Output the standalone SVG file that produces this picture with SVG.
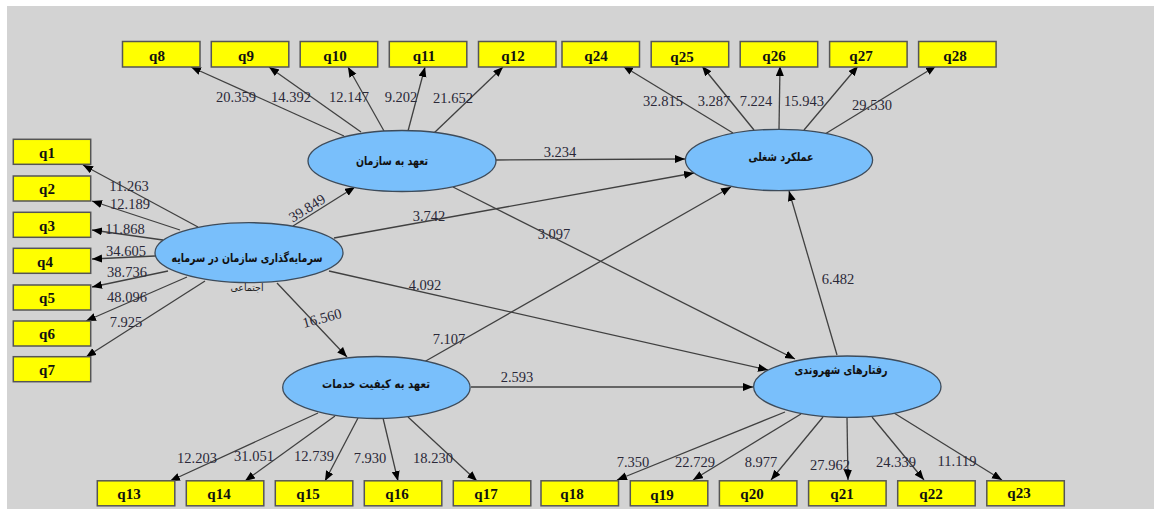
<svg xmlns="http://www.w3.org/2000/svg" width="1154" height="511" viewBox="0 0 1154 511">
<style>
.bg{fill:#d3d3d3}
.box{fill:#ffff00;stroke:#555;stroke-width:1.5}
.bt{font-family:"Liberation Serif",serif;font-weight:bold;font-size:15px;fill:#111;text-anchor:middle}
.ell{fill:#79bffb;stroke:#3d4b5a;stroke-width:1.3}
.at{font-family:"DejaVu Sans",sans-serif;font-weight:bold;font-size:12px;fill:#111;text-anchor:middle}
.st{font-family:"DejaVu Sans",sans-serif;font-size:10px;fill:#222;text-anchor:middle}
.ln{stroke:#404040;stroke-width:1.3;fill:none;marker-end:url(#ah)}
.lb{font-family:"Liberation Serif",serif;font-size:14.5px;fill:#2a2838;text-anchor:middle}
</style>
<defs>
<marker id="ah" markerUnits="userSpaceOnUse" markerWidth="11" markerHeight="9" refX="10" refY="4" orient="auto">
<path d="M0,0 L10,4 L0,8 z" fill="#000"/>
</marker>
</defs>
<rect width="1154" height="511" fill="#fff"/>
<rect class="bg" x="7" y="6" width="1147" height="503"/>
<g id="connectors">
<line class="ln" x1="344" y1="136" x2="191" y2="67"/>
<line class="ln" x1="361" y1="132" x2="269" y2="67"/>
<line class="ln" x1="384" y1="131" x2="348" y2="67"/>
<line class="ln" x1="408" y1="131" x2="425" y2="67"/>
<line class="ln" x1="434" y1="133" x2="503" y2="67"/>
<line class="ln" x1="733" y1="133" x2="623" y2="66"/>
<line class="ln" x1="754" y1="130" x2="702" y2="66"/>
<line class="ln" x1="779" y1="129" x2="780" y2="66"/>
<line class="ln" x1="804" y1="130" x2="858" y2="66"/>
<line class="ln" x1="825" y1="134" x2="936" y2="66"/>
<line class="ln" x1="198" y1="227" x2="83" y2="165"/>
<line class="ln" x1="180" y1="230" x2="92" y2="201"/>
<line class="ln" x1="163" y1="240" x2="92" y2="230"/>
<line class="ln" x1="155" y1="256" x2="92" y2="259"/>
<line class="ln" x1="168" y1="271" x2="92" y2="287"/>
<line class="ln" x1="187" y1="277" x2="86" y2="321"/>
<line class="ln" x1="205" y1="281" x2="86" y2="357"/>
<line class="ln" x1="318" y1="413" x2="170" y2="481"/>
<line class="ln" x1="335" y1="416" x2="245" y2="481"/>
<line class="ln" x1="358" y1="418" x2="325" y2="481"/>
<line class="ln" x1="383" y1="418" x2="398" y2="481"/>
<line class="ln" x1="408" y1="417" x2="477" y2="481"/>
<line class="ln" x1="785" y1="412" x2="617" y2="480"/>
<line class="ln" x1="801" y1="414" x2="693" y2="480"/>
<line class="ln" x1="823" y1="417" x2="771" y2="480"/>
<line class="ln" x1="847" y1="417" x2="848" y2="480"/>
<line class="ln" x1="872" y1="417" x2="924" y2="480"/>
<line class="ln" x1="894" y1="413" x2="1002" y2="480"/>
<line class="ln" x1="293" y1="226" x2="355" y2="187"/>
<line class="ln" x1="277" y1="283" x2="347" y2="357"/>
<line class="ln" x1="496" y1="160" x2="685" y2="159"/>
<line class="ln" x1="334" y1="238" x2="694" y2="173"/>
<line class="ln" x1="453" y1="187" x2="795" y2="359"/>
<line class="ln" x1="329" y1="271" x2="768" y2="370"/>
<line class="ln" x1="424" y1="362" x2="731" y2="187"/>
<line class="ln" x1="471" y1="387" x2="753" y2="387"/>
<line class="ln" x1="837" y1="355" x2="789" y2="191"/>
</g>
<g id="labels">
<text class="lb" x="236" y="102">20.359</text>
<text class="lb" x="291" y="102">14.392</text>
<text class="lb" x="349" y="102">12.147</text>
<text class="lb" x="401" y="102">9.202</text>
<text class="lb" x="453" y="103">21.652</text>
<text class="lb" x="663" y="106">32.815</text>
<text class="lb" x="714" y="106">3.287</text>
<text class="lb" x="756" y="106">7.224</text>
<text class="lb" x="804" y="106">15.943</text>
<text class="lb" x="872" y="110">29.530</text>
<text class="lb" x="129" y="191">11.263</text>
<text class="lb" x="130" y="209">12.189</text>
<text class="lb" x="125" y="234">11.868</text>
<text class="lb" x="126" y="256">34.605</text>
<text class="lb" x="127" y="277">38.736</text>
<text class="lb" x="127" y="302">48.096</text>
<text class="lb" x="126" y="327">7.925</text>
<text class="lb" x="307" y="213" transform="rotate(-32 307 208)">39.849</text>
<text class="lb" x="322" y="323" transform="rotate(-15 322 318)">16.560</text>
<text class="lb" x="560" y="157">3.234</text>
<text class="lb" x="429" y="221">3.742</text>
<text class="lb" x="554" y="239">3.097</text>
<text class="lb" x="425" y="290">4.092</text>
<text class="lb" x="449" y="344">7.107</text>
<text class="lb" x="517" y="382">2.593</text>
<text class="lb" x="838" y="284">6.482</text>
<text class="lb" x="197" y="463">12.203</text>
<text class="lb" x="254" y="461">31.051</text>
<text class="lb" x="314" y="461">12.739</text>
<text class="lb" x="370" y="463">7.930</text>
<text class="lb" x="433" y="463">18.230</text>
<text class="lb" x="633" y="467">7.350</text>
<text class="lb" x="695" y="467">22.729</text>
<text class="lb" x="761" y="467">8.977</text>
<text class="lb" x="830" y="470">27.962</text>
<text class="lb" x="896" y="467">24.339</text>
<text class="lb" x="957" y="466">11.119</text>
</g>
<g id="n-org"><ellipse class="ell" cx="402" cy="161" rx="94" ry="30.5"/><text class="at" x="392" y="165" textLength="72" lengthAdjust="spacingAndGlyphs">تعهد به سازمان</text></g>
<g id="n-perf"><ellipse class="ell" cx="779" cy="160" rx="93.6" ry="30.7"/><text class="at" x="781" y="161" textLength="65" lengthAdjust="spacingAndGlyphs">عملکرد شغلی</text></g>
<g id="n-invest"><ellipse class="ell" cx="249" cy="252.7" rx="94" ry="30"/><text class="at" x="247" y="262" textLength="151" lengthAdjust="spacingAndGlyphs">سرمایه‌گذاری سازمان در سرمایه</text><text class="st" x="247" y="291" textLength="33" lengthAdjust="spacingAndGlyphs">اجتماعی</text></g>
<g id="n-service"><ellipse class="ell" cx="376.4" cy="387.5" rx="93.7" ry="31"/><text class="at" x="376" y="388" textLength="108" lengthAdjust="spacingAndGlyphs">تعهد به کیفیت خدمات</text></g>
<g id="n-citizen"><ellipse class="ell" cx="847.3" cy="386.7" rx="93.7" ry="30.7"/><text class="at" x="841" y="374" textLength="93" lengthAdjust="spacingAndGlyphs">رفتارهای شهروندی</text></g>
<g id="q8"><rect class="box" x="122.5" y="41.5" width="77.5" height="25.5"/><text class="bt" x="157" y="60.5">q8</text></g>
<g id="q9"><rect class="box" x="211.3" y="41.5" width="77.5" height="25.5"/><text class="bt" x="246" y="60.5">q9</text></g>
<g id="q10"><rect class="box" x="300.2" y="41.5" width="77.5" height="25.5"/><text class="bt" x="335" y="60.5">q10</text></g>
<g id="q11"><rect class="box" x="389.3" y="41.5" width="77.5" height="25.5"/><text class="bt" x="424" y="60.5">q11</text></g>
<g id="q12"><rect class="box" x="478.5" y="41.5" width="77.5" height="25.5"/><text class="bt" x="513" y="60.5">q12</text></g>
<g id="q24"><rect class="box" x="562" y="41.5" width="77.5" height="25.5"/><text class="bt" x="596" y="60.5">q24</text></g>
<g id="q25"><rect class="box" x="651.2" y="41.5" width="77.5" height="25.5"/><text class="bt" x="682" y="62">q25</text></g>
<g id="q26"><rect class="box" x="740.2" y="41.5" width="77.5" height="25.5"/><text class="bt" x="774" y="60.5">q26</text></g>
<g id="q27"><rect class="box" x="829.6" y="41.5" width="77.5" height="25.5"/><text class="bt" x="861" y="60.5">q27</text></g>
<g id="q28"><rect class="box" x="918.6" y="41.5" width="77.5" height="25.5"/><text class="bt" x="955" y="60.5">q28</text></g>
<g id="q1"><rect class="box" x="13.3" y="139.3" width="77.4" height="25"/><text class="bt" x="47" y="157.5">q1</text></g>
<g id="q2"><rect class="box" x="13.3" y="176" width="77.4" height="25"/><text class="bt" x="47" y="194">q2</text></g>
<g id="q3"><rect class="box" x="13.3" y="212.3" width="77.4" height="25"/><text class="bt" x="47" y="230.5">q3</text></g>
<g id="q4"><rect class="box" x="13.3" y="248.3" width="77.4" height="25"/><text class="bt" x="45" y="266.5">q4</text></g>
<g id="q5"><rect class="box" x="13.3" y="285" width="77.4" height="25"/><text class="bt" x="47" y="303">q5</text></g>
<g id="q6"><rect class="box" x="13.3" y="321" width="77.4" height="25"/><text class="bt" x="47" y="339">q6</text></g>
<g id="q7"><rect class="box" x="13.3" y="356.7" width="77.4" height="25"/><text class="bt" x="47" y="374.5">q7</text></g>
<g id="q13"><rect class="box" x="97.3" y="480.8" width="77.5" height="25"/><text class="bt" x="129" y="499">q13</text></g>
<g id="q14"><rect class="box" x="186.3" y="480.8" width="77.5" height="25"/><text class="bt" x="219" y="499">q14</text></g>
<g id="q15"><rect class="box" x="275.3" y="480.8" width="77.5" height="25"/><text class="bt" x="308" y="499">q15</text></g>
<g id="q16"><rect class="box" x="364.3" y="480.8" width="77.5" height="25"/><text class="bt" x="397" y="499">q16</text></g>
<g id="q17"><rect class="box" x="453.3" y="480.8" width="77.5" height="25"/><text class="bt" x="486" y="499">q17</text></g>
<g id="q18"><rect class="box" x="541" y="480.8" width="77.5" height="25"/><text class="bt" x="572" y="499">q18</text></g>
<g id="q19"><rect class="box" x="630.3" y="480.8" width="77.5" height="25"/><text class="bt" x="662" y="500">q19</text></g>
<g id="q20"><rect class="box" x="719.4" y="480.8" width="77.5" height="25"/><text class="bt" x="752" y="499">q20</text></g>
<g id="q21"><rect class="box" x="808.6" y="480.8" width="77.5" height="25"/><text class="bt" x="842" y="499">q21</text></g>
<g id="q22"><rect class="box" x="897.7" y="480.8" width="77.5" height="25"/><text class="bt" x="931" y="499">q22</text></g>
<g id="q23"><rect class="box" x="986.8" y="480.8" width="77.5" height="25"/><text class="bt" x="1019" y="498">q23</text></g>
</svg>
